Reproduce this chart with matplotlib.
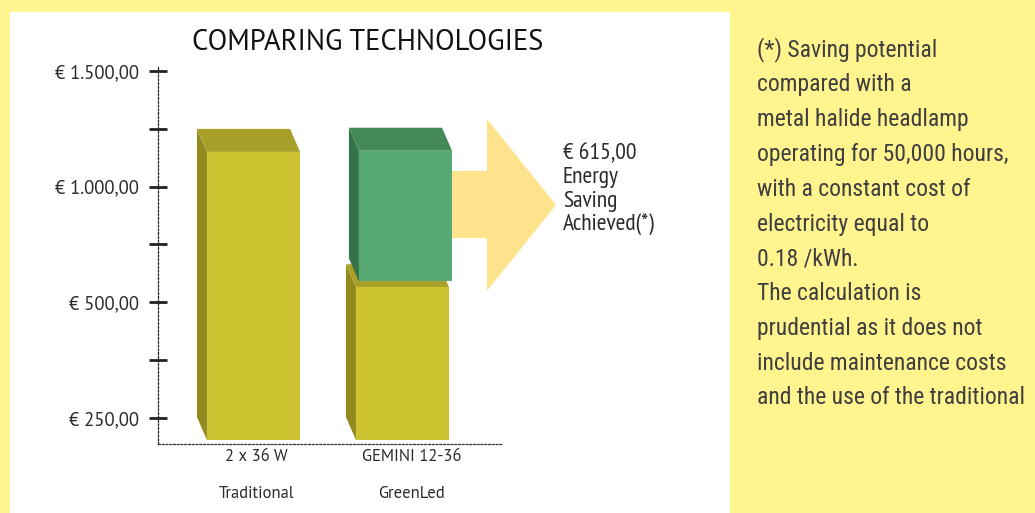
import matplotlib
matplotlib.use("Agg")
import matplotlib.pyplot as plt
from matplotlib.patches import Polygon, Rectangle
from matplotlib import font_manager as fm
import matplotlib.transforms as mtransforms

# ---------------- data ----------------
categories = ["2 x 36 W", "GEMINI 12-36"]
groups = ["Traditional", "GreenLed"]
base_cost = [1150, 565]          # yellow part
saving = [0, 590]                # green part (energy saving)
saving_label = "€ 615,00"
saving_text = ["Energy", "Saving", "Achieved(*)"]
major_ticks = [0, 500, 1000, 1500]
major_labels = ["€ 250,00", "€ 500,00", "€ 1.000,00", "€ 1.500,00"]
minor_ticks = [250, 750, 1250]
title = "COMPARING TECHNOLOGIES"
footnote = ["(*) Saving potential",
            "compared with a",
            "metal halide headlamp",
            "operating for 50,000 hours,",
            "with a constant cost of",
            "electricity equal to",
            "0.18 /kWh.",
            "The calculation is",
            "prudential as it does not",
            "include maintenance costs",
            "and the use of the traditional"]

# ---------------- style ----------------
W, H = 1035, 513
BG_YELLOW = "#FFF48D"
Y_FRONT, Y_TOP, Y_SIDE = "#CDC22F", "#A9A02A", "#928A1F"
G_FRONT, G_TOP, G_SIDE = "#58A873", "#448A59", "#367349"
ARROW = "#FDE38B"
TXT = "#2b2b2b"

avail = {f.name for f in fm.fontManager.ttflist}
def pick(*names):
    for n in names:
        if n in avail:
            return n
    return "DejaVu Sans"
SANS = pick("PT Sans", "Lato", "Open Sans")
NARROW = pick("PT Sans Narrow", "Open Sans Condensed", "Archivo Narrow", "Roboto Condensed",
              "Asap Condensed", "Liberation Sans Narrow")
DIN = pick("Roboto Condensed", "Barlow Condensed", "Barlow Semi Condensed", "Archivo Narrow",
           "Abel", "Asap Condensed")

fig = plt.figure(figsize=(W / 100, H / 100), dpi=100)
fig.patch.set_facecolor(BG_YELLOW)
fig.patches.append(Rectangle((10 / W, 0), (730 - 10) / W, 1 - 12 / H,
                             transform=fig.transFigure, facecolor="white",
                             edgecolor="none", zorder=-5))

def fx(px):
    return px / W
def fy(py):
    return 1 - py / H

ax_left, ax_right, ax_bot, ax_top = 157.7, 730, 444, 20
ax = fig.add_axes([fx(ax_left), fy(ax_bot), fx(ax_right - ax_left), (ax_bot - ax_top) / H])
ax.patch.set_alpha(0)
ax.set_zorder(2)

px_per_cat = 149.0
val_per_px = 500 / 115.7
x0c = 253.5
ax.set_xlim((ax_left - x0c) / px_per_cat, (ax_right - x0c) / px_per_cat)
ax.set_ylim(-(ax_bot - 418) * val_per_px, (418 - ax_top) * val_per_px)

FLOOR = -95
BAR_W = 0.625
DX = 10 / px_per_cat
DY = 23 * val_per_px

def box(xc, bottom, top, cf, ct, cs, z):
    xl, xr = xc - BAR_W / 2, xc + BAR_W / 2
    side = Polygon([(xl, bottom), (xl, top), (xl - DX, top + DY), (xl - DX, bottom + DY)],
                   closed=True, facecolor=cs, edgecolor="none", zorder=z)
    topf = Polygon([(xl, top), (xr, top), (xr - DX, top + DY), (xl - DX, top + DY)],
                   closed=True, facecolor=ct, edgecolor="none", zorder=z)
    ax.add_patch(side)
    ax.add_patch(topf)
    ax.bar([xc], [top - bottom], bottom=[bottom], width=BAR_W, color=cf,
           edgecolor="none", zorder=z + 0.1)

for i in range(len(categories)):
    box(i, FLOOR, base_cost[i], Y_FRONT, Y_TOP, Y_SIDE, 2 + i)
    if saving[i] > 0:
        box(i + 0.02, base_cost[i] + 25, base_cost[i] + saving[i], G_FRONT, G_TOP, G_SIDE, 4 + i)

# arrow (annotation)
sx0 = 1 + BAR_W / 2 + 0.02
hx = (487 - x0c) / px_per_cat
tx = (556 - x0c) / px_per_cat
sy_hi, sy_lo = (418 - 171) * val_per_px, (418 - 238) * val_per_px
hy_hi, hy_lo = (418 - 119) * val_per_px, (418 - 291) * val_per_px
ty = (418 - 205) * val_per_px
ax.add_patch(Polygon([(sx0, sy_hi), (hx, sy_hi), (hx, hy_hi), (tx, ty), (hx, hy_lo),
                      (hx, sy_lo), (sx0, sy_lo)], closed=True, facecolor=ARROW,
                     edgecolor="none", zorder=1))

# axes styling
for s in ["top", "right"]:
    ax.spines[s].set_visible(False)
ax.spines["left"].set_linestyle((0, (1.5, 1.5)))
ax.spines["left"].set_linewidth(0.9)
ax.spines["left"].set_color("#222222")
ax.spines["left"].set_bounds(ax.get_ylim()[0], 1500 + 15)
ax.spines["bottom"].set_linestyle((0, (1.5, 1.5)))
ax.spines["bottom"].set_linewidth(0.9)
ax.spines["bottom"].set_color("#333333")
ax.spines["bottom"].set_bounds(ax.get_xlim()[0], (503 - x0c) / px_per_cat)

ax.set_yticks(major_ticks)
ax.set_yticklabels(major_labels)
ax.set_yticks(minor_ticks, minor=True)
ax.tick_params(axis="y", which="both", direction="inout", length=12.5, width=2,
               color="#222222", labelsize=13.5, labelcolor=TXT, pad=7)
for lab in ax.get_yticklabels():
    lab.set_fontfamily(SANS)
ax.set_xticks([])

trans = mtransforms.blended_transform_factory(ax.transData, fig.transFigure)
label_x = [0.02, 1.06]
for i, (c, g) in enumerate(zip(categories, groups)):
    ax.text(label_x[i], fy(457), c, transform=trans, ha="center", va="center",
            fontsize=12, color=TXT, family=SANS)
    ax.text(label_x[i], fy(494), g, transform=trans, ha="center", va="center",
            fontsize=12, color=TXT, family=SANS)

# saving label
lbl_x = (563 - x0c) / px_per_cat
for k, line in enumerate([saving_label] + saving_text):
    ax.text(lbl_x, fy(154 + 23.5 * k), line, transform=trans, ha="left", va="center",
            fontsize=17, color=TXT, family=NARROW)

fig.text(fx(368), fy(42), title, ha="center", va="center", fontsize=20.6,
         color="#111111", family=SANS)

for k, line in enumerate(footnote):
    fig.text(fx(757), fy(50 + 34.8 * k), line, ha="left", va="center",
             fontsize=17, color="#3f3f3f", family=DIN)

fig.savefig("out.png", dpi=100, facecolor=fig.get_facecolor())
